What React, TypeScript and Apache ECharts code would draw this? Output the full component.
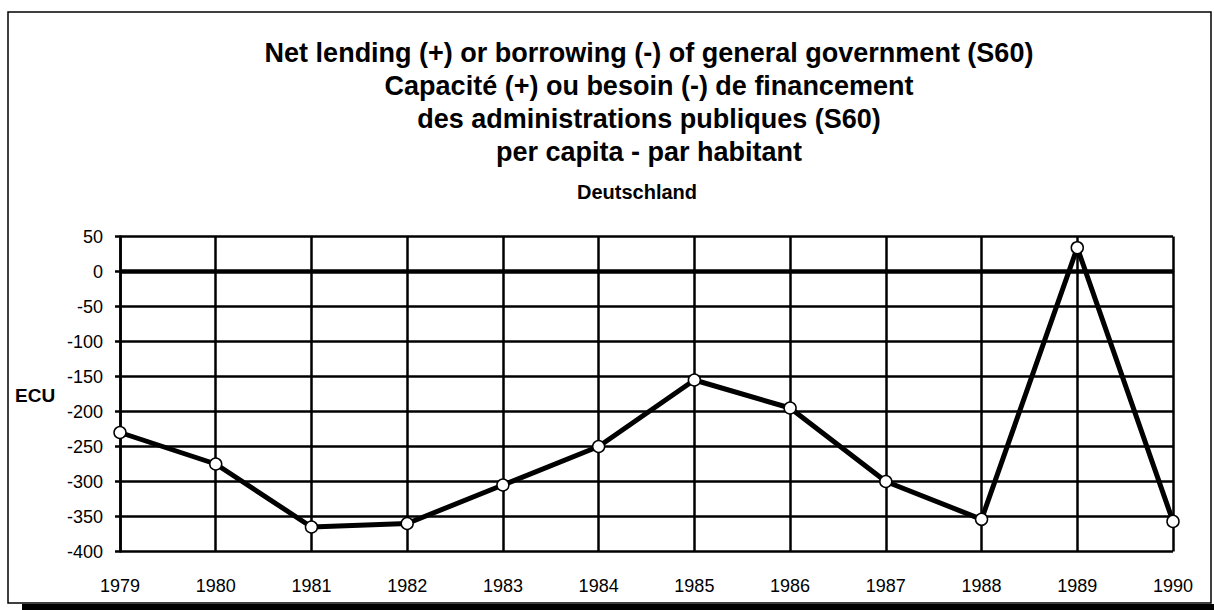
import React, { useEffect, useRef } from "react";
import * as echarts from "echarts";

const years = ["1979", "1980", "1981", "1982", "1983", "1984", "1985", "1986", "1987", "1988", "1989", "1990"];
const values = [-230, -275, -365, -360, -305, -250, -155, -195, -300, -354, 34, -357];
const titleLines = [
  "Net lending (+) or borrowing (-) of general government (S60)",
  "Capacité (+) ou besoin (-) de financement",
  "des administrations publiques (S60)",
  "per capita - par habitant",
];
const subtitle = "Deutschland";
const unitLabel = "ECU";

const FONT = "'Liberation Sans', Arial, Helvetica, sans-serif";

export default function App() {
  const ref = useRef<HTMLDivElement>(null);
  useEffect(() => {
    document.body.style.margin = "0";
    const chart = echarts.init(ref.current!, null, { renderer: "svg" });
    chart.setOption({
      animation: false,
      backgroundColor: "#ffffff",
      title: [
        {
          text: titleLines.join("\n"),
          left: 644,
          top: 31,
          textAlign: "center",
          textStyle: {
            fontFamily: FONT,
            fontSize: 27,
            fontWeight: "bold",
            color: "#000",
            lineHeight: 33,
          },
        },
        {
          text: subtitle,
          left: 632,
          top: 177,
          textAlign: "center",
          textStyle: { fontFamily: FONT, fontSize: 20, fontWeight: "bold", color: "#000" },
        },
      ],
      graphic: [
        {
          type: "rect",
          shape: { x: 8, y: 12, width: 1203, height: 591 },
          style: { fill: "none", stroke: "#000", lineWidth: 1.5 },
          silent: true,
        },
        {
          type: "rect",
          shape: { x: 22, y: 604, width: 1192, height: 6 },
          style: { fill: "#000" },
          silent: true,
        },
        {
          type: "text",
          x: 15,
          y: 395,
          style: {
            text: unitLabel,
            font: `bold 19px ${FONT}`,
            fill: "#000",
            textVerticalAlign: "middle",
          },
        },
      ],
      grid: { left: 120, right: 41, top: 236.5, bottom: 58.5, containLabel: false },
      xAxis: {
        type: "category",
        data: years,
        boundaryGap: false,
        axisLine: { show: true, lineStyle: { color: "#000", width: 2.5 } },
        axisTick: { show: false },
        splitLine: { show: true, lineStyle: { color: "#000", width: 2.5 } },
        axisLabel: { color: "#000", fontFamily: FONT, fontSize: 18, margin: 25 },
      },
      yAxis: {
        type: "value",
        min: -400,
        max: 50,
        interval: 50,
        axisLine: { show: true, lineStyle: { color: "#000", width: 2.5 } },
        axisTick: { show: true, length: 5, lineStyle: { color: "#000", width: 2.5 } },
        splitLine: { show: true, lineStyle: { color: "#000", width: 2.5 } },
        axisLabel: { color: "#000", fontFamily: FONT, fontSize: 18, margin: 17 },
      },
      series: [
        {
          type: "line",
          data: values,
          symbol: "circle",
          symbolSize: 12,
          showAllSymbol: true,
          itemStyle: { color: "#fff", borderColor: "#000", borderWidth: 1.5 },
          lineStyle: { color: "#000", width: 5 },
          z: 5,
          markLine: {
            silent: true,
            symbol: "none",
            label: { show: false },
            lineStyle: { color: "#000", width: 4.5, type: "solid" },
            data: [{ yAxis: 0 }],
            z: 3,
          },
        },
      ],
    });
    return () => chart.dispose();
  }, []);
  return <div ref={ref} style={{ width: 1214, height: 610 }} />;
}
